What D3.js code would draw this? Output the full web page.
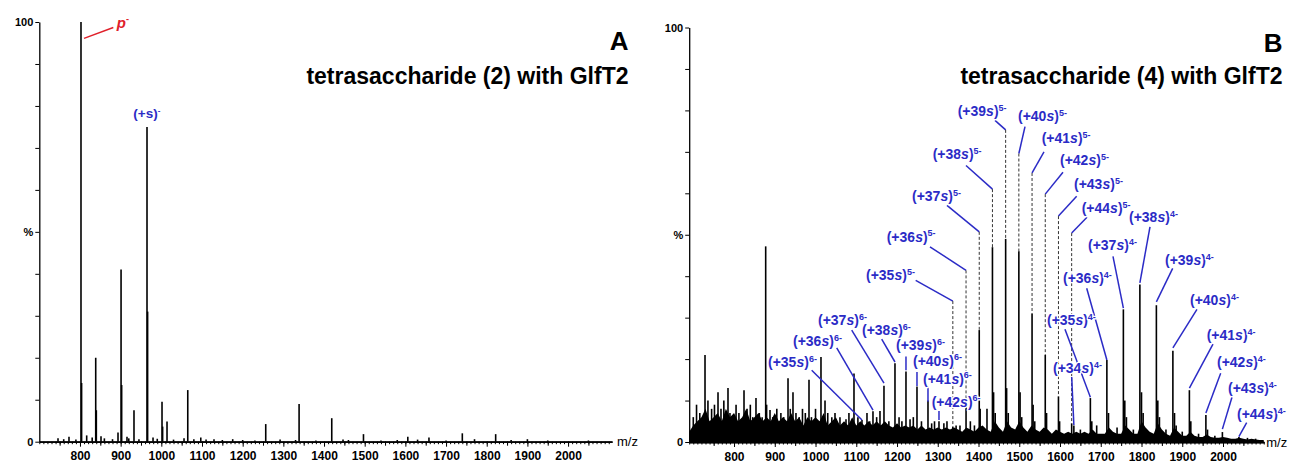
<!DOCTYPE html>
<html>
<head>
<meta charset="utf-8">
<script src="https://cdn.jsdelivr.net/npm/d3@7"></script>
<style>
  body { margin: 0; background: #fff; }
  svg { display: block; font-family: Arial, "Liberation Sans", sans-serif; }
</style>
</head>
<body>
<svg id="chart" width="1289" height="464"></svg>
<script>
// ---- data ----
const mzTicks = [800, 900, 1000, 1100, 1200, 1300, 1400, 1500, 1600, 1700, 1800, 1900, 2000];

// panel A: tetrasaccharide (2) with GlfT2, [m/z, %]
const peaksA = [
  [746, 0.8], [760, 0.6], [773, 1.2], [790, 0.5], [802.5, 100], [804, 14], [816.5, 1.5], [830, 1],
  [838.7, 20], [840.2, 7.5], [851.7, 1.3], [860, 0.8], [880, 0.6], [893.5, 2.2], [901, 41], [902.5, 13.5],
  [915.6, 1.2], [920, 0.8], [932.8, 7.5], [945, 0.6], [964.8, 75], [966.3, 31], [979.6, 1], [990, 0.7],
  [1001.7, 9.5], [1003.2, 3.6], [1014, 4.8], [1030, 0.5], [1055.8, 0.8], [1065, 12.3], [1080, 0.6],
  [1097, 1], [1110, 0.5], [1129.5, 0.6], [1150, 0.4], [1175.5, 0.6], [1200, 0.4], [1230, 0.3],
  [1256.7, 4.2], [1292, 0.5], [1330, 0.4], [1338.7, 9], [1380, 0.3], [1419, 5.6], [1446.7, 0.5],
  [1460, 0.4], [1497, 1.8], [1540, 0.3], [1580, 0.4], [1606, 1.2], [1630, 0.5], [1658, 1],
  [1700, 0.3], [1740, 2], [1770, 0.6], [1822, 1.8], [1860, 0.4], [1900, 0.6], [1950, 0.3], [2050, 0.3]
];

// panel B: tetrasaccharide (4) with GlfT2
const series6Count = [35, 36, 37, 38, 39, 40, 41, 42];
const series6Mz = [1114, 1141, 1168, 1195, 1222, 1249, 1276, 1303];
const series6Int = [5.3, 7.4, 13.6, 19, 17, 13.4, 10, 5];

const series5Count = [35, 36, 37, 38, 39, 40, 41, 42, 43, 44];
const series5Mz = [1337, 1369.4, 1401.8, 1434.2, 1466.6, 1499, 1531.4, 1563.8, 1596.2, 1628.6];
const series5Int = [3.7, 10, 27, 47, 49, 46, 31, 21, 11, 4.5];

const series4Count = [34, 35, 36, 37, 38, 39, 40, 41, 42, 43, 44];
const series4Mz = [1634, 1674.5, 1715, 1755.5, 1796, 1836.5, 1877, 1917.5, 1958, 1998.5, 2039];
const series4Int = [4, 10.6, 19.8, 32, 38, 33, 22, 12.5, 6.5, 2.4, 1.2];

// other (unassigned) peaks in B, [m/z, %]
const otherPeaksB = [
  [700, 6], [708, 9], [716, 7], [728.8, 21], [736, 10], [745, 8], [752, 9], [760.7, 12], [768, 8],
  [775, 10], [785.2, 13], [790, 7], [797.5, 6.5], [805, 9], [812, 7], [824.5, 12.5], [832, 8],
  [840, 9], [846, 6], [853.9, 10.6], [862, 7], [869, 6], [877.7, 47.2], [880, 9], [888.3, 7.7],
  [895, 6], [905, 8], [915, 7], [922, 6], [932.5, 15.4], [938, 8], [944.7, 12], [952, 7], [960, 6],
  [968, 8], [975, 7], [984, 15], [990, 6], [1000, 8], [1013.4, 20.5], [1023.3, 10], [1030, 7],
  [1040, 6], [1047.8, 7], [1060, 6], [1074.8, 5.5], [1082, 7], [1094.4, 16.5], [1104, 6],
  [1126.3, 7], [1133, 5], [1150, 6], [1158.2, 7.5], [1180, 5], [1205, 6], [1212, 5], [1232, 5.5],
  [1240, 6], [1260, 5], [1285, 4.5], [1292, 5], [1315, 4.5], [1322.6, 5], [1345, 4], [1354.5, 4],
  [1380, 5], [1390, 4], [1404, 8], [1420.8, 8], [1437, 12], [1441, 7], [1469, 13], [1473, 7],
  [1502, 12], [1506, 6], [1534, 9], [1538, 5], [1567, 7], [1599, 5], [1650, 3], [1678, 5],
  [1690, 4], [1719, 7], [1740, 3.5], [1759, 10], [1763, 6], [1780, 3], [1800, 12], [1804, 7],
  [1840, 10], [1844, 6], [1860, 3], [1881, 7], [1885, 4], [1900, 2.5], [1921, 5], [1940, 2],
  [1962, 3], [1980, 1.5], [2060, 1], [2080, 0.8]
];

// baseline "grass" in B, every 10 m/z from 690 to 2100, %
const noiseStartB = 690;
const noiseB = [
  2.5, 4, 5, 6, 8, 5, 6, 7, 5, 8,
  6, 7, 5, 6, 8, 5, 6, 7, 5, 6,
  5, 7, 5, 6, 5, 7, 5, 6, 4, 6,
  5, 6, 5, 7, 4, 5, 6, 4, 5, 4,
  6, 4, 5, 4, 5, 4, 5, 4, 5, 4,
  3.5, 4.5, 3.5, 4, 3.5, 4, 3, 4, 3, 3.5,
  3, 3.5, 3, 3.5, 3, 3.5, 3, 2.5, 3.5, 3,
  2.5, 3.5, 4, 3, 2.5, 5, 3.5, 2.5, 5, 3.5,
  3, 5, 3.5, 2.5, 4, 3, 2.5, 3.5, 3, 2,
  3, 2.5, 2, 2.5, 2, 2.5, 2, 2.5, 2, 3,
  2, 2, 2, 3.5, 2.5, 2, 2, 4, 3, 2,
  2, 5, 3.5, 2.5, 2, 4.5, 3, 2, 1.5, 3.5,
  2.5, 1.5, 1.5, 2.5, 1.5, 1.2, 1.2, 1.8, 1.2, 1,
  1, 1.2, 1, 0.8, 0.8, 1, 0.8, 0.6, 0.8, 0.6,
  0.5, 0.5
];

// ---- label placement (in data units: m/z, %) ----
// [text m/z, text %, leader start m/z, leader start %, leader end %]
const place6 = [
  [883.4, 19.3, 990.6, 17.3, 5.3], [944.7, 24.3, 1052, 22.7, 7.7], [1006.1, 29.4, 1088.8, 27.0, 14.2],
  [1114, 27.0, 1162.4, 24.8, 19.3], [1197.5, 23.4, 1222, 20.6, 17.3], [1239.2, 19.6, 1249, 16.9, 13.5],
  [1263.7, 15.2, 1276, 13.3, 9.7], [1285.1, 9.7, 1303, 7.5, 5.3]
];
const place5 = [
  [1123.9, 40.2, 1245.8, 39.0, 34.0], [1174.7, 49.5, 1280.9, 47.1, 41.4], [1236.8, 59.3, 1322.6, 57.1, 50.7],
  [1287.5, 69.4, 1369.3, 66.7, 61.0], [1348.9, 79.8, 1440.4, 77.6, 75.3], [1496.9, 78.6, 1514.1, 76.1, 69.6],
  [1555, 73.3, 1560.7, 70.0, 64.9], [1600, 68.0, 1607.3, 65.1, 59.8], [1634.3, 62.2, 1640.9, 59.3, 54.5],
  [1653.2, 56.4, 1666.2, 54.2, 50.4]
];
const place4 = [
  [1582.8, 17.8, 1628.7, 15.7, 4.1], [1568, 29.4, 1612.2, 27.2, 10.8], [1607.3, 39.5, 1665.5, 37.1, 19.8],
  [1668.7, 47.5, 1730, 44.8, 32.3], [1769.3, 54.2, 1820.8, 51.9, 38.4], [1857.6, 43.9, 1876.5, 41.9, 33.8],
  [1919, 34.2, 1936.1, 32.0, 22.7], [1960, 25.8, 1975.4, 23.6, 13.0], [1985.2, 19.3, 1994.3, 16.6, 7.0],
  [2012.2, 13.0, 2022, 10.8, 3.1], [2034.3, 6.7, 2058.1, 4.7, 1.3]
];

const blue = "#2b2bc6";
const red = "#e0202a";

const svg = d3.select("#chart");

function drawPanel(cfg) {
  const g = svg.append("g");
  const x = d3.scaleLinear().domain(cfg.domain).range(cfg.xRange);
  const y = d3.scaleLinear().domain([0, 100]).range(cfg.yRange);

  // grass under the peaks
  if (cfg.noise) {
    const area = d3.area()
      .x((d, i) => x(cfg.noiseStart + i * 10))
      .y0(y(0))
      .y1(d => y(d));
    g.append("path").datum(cfg.noise).attr("d", area).attr("fill", "#000");
  }

  // peaks as sticks
  g.selectAll("line.peak")
    .data(cfg.peaks)
    .join("line")
    .attr("class", "peak")
    .attr("x1", d => x(d[0])).attr("x2", d => x(d[0]))
    .attr("y1", y(0)).attr("y2", d => y(d[1]))
    .attr("stroke", "#000")
    .attr("stroke-width", 1.6);

  // x axis: small ticks each 10, bigger each 50, labels each 100
  const ax = g.append("g").attr("transform", `translate(0,${y(0)})`);
  ax.append("g").call(d3.axisBottom(x).tickValues(d3.range(Math.ceil(cfg.domain[0] / 10) * 10, cfg.domain[1] + 1, 10))
      .tickSize(2.5).tickSizeOuter(0).tickFormat(""));
  ax.append("g").call(d3.axisBottom(x).tickValues(d3.range(750, 2101, 100))
      .tickSize(4).tickSizeOuter(0).tickFormat(""));
  ax.append("g").call(d3.axisBottom(x).tickValues(mzTicks)
      .tickSize(5).tickSizeOuter(0).tickPadding(5).tickFormat(d3.format("d")));
  ax.selectAll("path.domain").attr("stroke-width", 1.3);
  ax.selectAll("text").attr("font-size", 12).attr("font-weight", "bold")
    .attr("font-family", "Arial, 'Liberation Sans', sans-serif").attr("fill", "#000");

  g.append("text")
    .attr("x", cfg.xRange[1] + cfg.mzGap).attr("y", y(0) + 4.5)
    .attr("font-size", 13).text("m/z");

  // y axis
  const ay = g.append("g").attr("transform", `translate(${cfg.xRange[0]},0)`)
    .call(d3.axisLeft(y).tickValues(d3.range(0, 101, 10)).tickSize(4).tickSizeOuter(0).tickPadding(2)
      .tickFormat(d => d === 100 ? "100" : d === 50 ? "%" : d === 0 ? "0" : ""));
  ay.select("path.domain").attr("stroke-width", 1.3);
  ay.selectAll("text").attr("font-size", 11).attr("font-weight", "bold")
    .attr("font-family", "Arial, 'Liberation Sans', sans-serif").attr("fill", "#000");

  // panel letter and title
  g.append("text")
    .attr("x", cfg.titleRight).attr("y", cfg.letterY)
    .attr("text-anchor", "end").attr("font-size", 26).attr("font-weight", "bold")
    .text(cfg.letter);
  g.append("text")
    .attr("x", cfg.titleRight).attr("y", 84)
    .attr("text-anchor", "end").attr("font-size", 23).attr("font-weight", "bold")
    .text(cfg.title);

  return { g, x, y };
}

function ionText(g, px, py, count, charge) {
  const t = g.append("text")
    .attr("x", px).attr("y", py + 5)
    .attr("font-size", 14).attr("font-weight", "bold")
    .attr("fill", blue)
    .attr("stroke", "#fff").attr("stroke-width", 2.5)
    .attr("stroke-linejoin", "round").attr("paint-order", "stroke");
  t.append("tspan").text(`(+${count}`);
  t.append("tspan").attr("font-style", "italic").text("s");
  t.append("tspan").text(")");
  t.append("tspan").attr("font-size", 9).attr("dy", -5.5).text(`${charge}-`);
}

// ---------- panel A ----------
const A = drawPanel({
  domain: [700, 2108], xRange: [39.3, 612], yRange: [441.7, 22],
  peaks: peaksA, letter: "A", letterY: 50, titleRight: 628.5, mzGap: 5,
  title: "tetrasaccharide (2) with GlfT2"
});

A.g.append("line")
  .attr("x1", A.x(809.9)).attr("y1", A.y(96.1))
  .attr("x2", A.x(882)).attr("y2", A.y(98.7))
  .attr("stroke", red).attr("stroke-width", 1.5);
const pLab = A.g.append("text")
  .attr("x", A.x(890.3)).attr("y", A.y(99.3) + 3)
  .attr("font-size", 15).attr("font-weight", "bold").attr("font-style", "italic").attr("fill", red);
pLab.append("tspan").text("p");
pLab.append("tspan").attr("font-size", 9).attr("dy", -6).attr("font-style", "normal").text("-");

const sLab = A.g.append("text")
  .attr("x", A.x(931.2)).attr("y", A.y(78.4) + 5)
  .attr("font-size", 13.5).attr("font-weight", "bold").attr("fill", blue);
sLab.append("tspan").text("(+s)");
sLab.append("tspan").attr("font-size", 8).attr("dy", -5).text("-");

// ---------- panel B ----------
const ionPeaks = [];
series6Mz.forEach((m, i) => ionPeaks.push([m, series6Int[i]]));
series5Mz.forEach((m, i) => ionPeaks.push([m, series5Int[i]]));
series4Mz.forEach((m, i) => ionPeaks.push([m, series4Int[i]]));

const B = drawPanel({
  domain: [690, 2100], xRange: [689.2, 1263.75], yRange: [442, 27.5],
  peaks: otherPeaksB.concat(ionPeaks), noise: noiseB, noiseStart: noiseStartB,
  letter: "B", letterY: 52, titleRight: 1282.5, mzGap: 2.5,
  title: "tetrasaccharide (4) with GlfT2"
});

const lead = B.g.append("g");
const labs = B.g.append("g");

function ionSeries(counts, mzs, ints, place, charge, dashed) {
  counts.forEach((c, i) => {
    const p = place[i];
    lead.append("line")
      .attr("x1", B.x(p[2])).attr("y1", B.y(p[3]))
      .attr("x2", B.x(mzs[i])).attr("y2", B.y(p[4]))
      .attr("stroke", blue).attr("stroke-width", 1.5);
    if (dashed) {
      lead.append("line")
        .attr("x1", B.x(mzs[i])).attr("y1", B.y(p[4]))
        .attr("x2", B.x(mzs[i])).attr("y2", B.y(ints[i]))
        .attr("stroke", "#333").attr("stroke-width", 1)
        .attr("stroke-dasharray", "3,2");
    }
    ionText(labs, B.x(p[0]), B.y(p[1]), c, charge);
  });
}

ionSeries(series6Count, series6Mz, series6Int, place6, 6, false);
ionSeries(series5Count, series5Mz, series5Int, place5, 5, true);
ionSeries(series4Count, series4Mz, series4Int, place4, 4, false);
</script>
</body>
</html>
